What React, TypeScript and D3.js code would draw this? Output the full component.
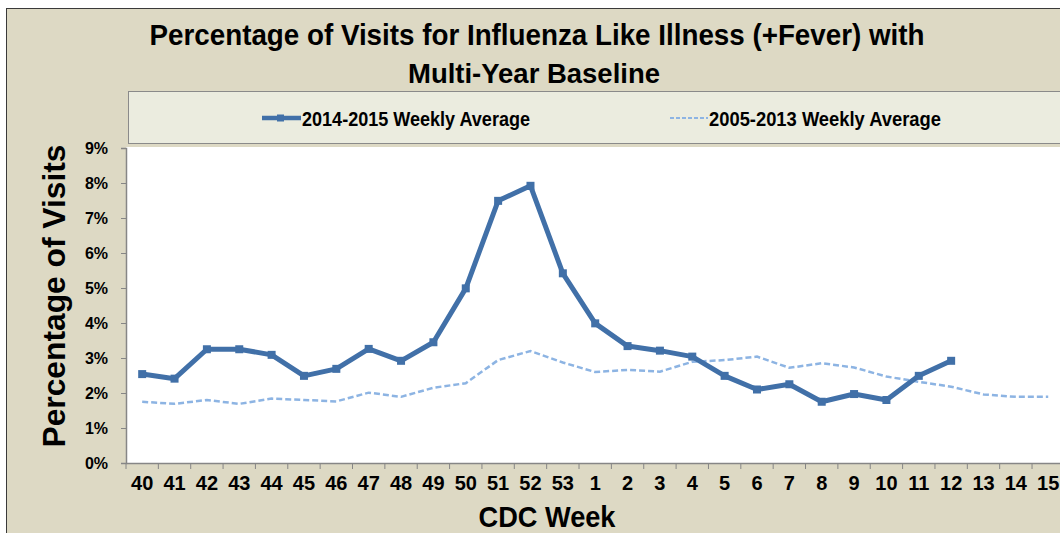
import React, { useEffect, useRef } from 'react';
import * as d3 from 'd3';

// CDC weeks, season runs from week 40 through week 15 of next year
const weeks = ['40', '41', '42', '43', '44', '45', '46', '47', '48', '49', '50', '51', '52', '53',
  '1', '2', '3', '4', '5', '6', '7', '8', '9', '10', '11', '12', '13', '14', '15'];

// 2014-2015 weekly average (%), data through week 12
const season2014 = [2.54, 2.41, 3.25, 3.25, 3.09, 2.49, 2.69, 3.26, 2.92, 3.45, 4.99, 7.49, 7.92, 5.42,
  3.99, 3.34, 3.21, 3.04, 2.49, 2.1, 2.25, 1.75, 1.97, 1.8, 2.49, 2.92];

// 2005-2013 weekly average (%)
const baseline = [1.75, 1.69, 1.8, 1.69, 1.84, 1.8, 1.76, 2.01, 1.89, 2.15, 2.28, 2.94, 3.2, 2.87,
  2.6, 2.66, 2.61, 2.89, 2.94, 3.04, 2.72, 2.85, 2.73, 2.47, 2.32, 2.18, 1.96, 1.89, 1.89];

const yTicks = [0, 1, 2, 3, 4, 5, 6, 7, 8, 9];

const NARROW = "'Liberation Sans Narrow', 'Arial Narrow', 'Liberation Sans', Arial, sans-serif";
const WIDE = "'Liberation Sans', Arial, sans-serif";
const SOLID = '#4170a8';
const DASHED = '#8db4e3';

const label = (svg, x, y, txt, size, family, anchor, len?) => {
  const t = svg
    .append('text')
    .attr('x', x)
    .attr('y', y)
    .attr('font-family', family)
    .attr('font-weight', 'bold')
    .attr('font-size', size)
    .attr('text-anchor', anchor)
    .attr('fill', '#000')
    .text(txt);
  if (len) t.attr('textLength', len).attr('lengthAdjust', 'spacingAndGlyphs');
  return t;
};

const App = () => {
  const ref = useRef<SVGSVGElement>(null);

  useEffect(() => {
    const svg = d3.select(ref.current);
    svg.selectAll('*').remove();

    const x = d3.scaleBand().domain(weeks).range([126, 1064.4]);
    const y = d3.scaleLinear().domain([0, 9]).range([463, 148]);
    const cx = (i) => x(weeks[i]) + x.bandwidth() / 2;

    // chart frame
    svg.append('rect').attr('width', 1060).attr('height', 533).attr('fill', '#fff');
    svg
      .append('rect')
      .attr('x', 6.5)
      .attr('y', 8.5)
      .attr('width', 1070)
      .attr('height', 540)
      .attr('fill', '#ddd9c4')
      .attr('stroke', '#3a3a3a');

    // title
    label(svg, 537, 45, 'Percentage of Visits for Influenza Like Illness (+Fever) with', 29, NARROW, 'middle', 775);
    label(svg, 534, 83, 'Multi-Year Baseline', 28, NARROW, 'middle', 252);

    // legend
    svg
      .append('rect')
      .attr('x', 128.5)
      .attr('y', 91.5)
      .attr('width', 960)
      .attr('height', 52)
      .attr('fill', '#ebecdf')
      .attr('stroke', '#8a8a8a');
    svg.append('line').attr('x1', 262).attr('x2', 301).attr('y1', 118).attr('y2', 118)
      .attr('stroke', SOLID).attr('stroke-width', 4.5);
    svg.append('rect').attr('x', 277).attr('y', 114.5).attr('width', 7).attr('height', 7).attr('fill', SOLID);
    label(svg, 302, 125.5, '2014-2015 Weekly Average', 20, NARROW, 'start', 228);
    svg.append('line').attr('x1', 670).attr('x2', 708).attr('y1', 118).attr('y2', 118)
      .attr('stroke', DASHED).attr('stroke-width', 2).attr('stroke-dasharray', '4,2');
    label(svg, 709, 125.5, '2005-2013 Weekly Average', 20, NARROW, 'start', 232);

    // plot area
    svg.append('rect').attr('x', 126).attr('y', 147).attr('width', 940).attr('height', 316).attr('fill', '#fff');

    // y axis
    const yAxis = svg
      .append('g')
      .attr('transform', 'translate(126,0)')
      .call(d3.axisLeft(y).tickValues(yTicks).tickFormat((d) => d + '%').tickSize(5).tickPadding(13));
    yAxis.select('.domain').attr('stroke', '#868686').attr('stroke-width', 1.5);
    yAxis.selectAll('line').attr('stroke', '#868686');
    yAxis.selectAll('text').attr('font-family', NARROW).attr('font-weight', 'bold').attr('font-size', 16).attr('fill', '#000');

    // x axis
    const xAxis = svg
      .append('g')
      .attr('transform', 'translate(0,463)')
      .call(d3.axisBottom(x).tickSize(0).tickPadding(13).tickSizeOuter(0));
    xAxis.select('.domain').attr('stroke', '#868686').attr('stroke-width', 1.5);
    xAxis.selectAll('text').attr('font-family', NARROW).attr('font-weight', 'bold').attr('font-size', 20).attr('fill', '#000');
    xAxis
      .selectAll('.bound')
      .data(weeks)
      .enter()
      .append('line')
      .attr('x1', (d) => x(d))
      .attr('x2', (d) => x(d))
      .attr('y1', 0)
      .attr('y2', 6)
      .attr('stroke', '#868686');

    // axis titles
    label(svg, 0, 0, 'Percentage of Visits', 31, WIDE, 'middle', 303).attr('transform', 'translate(65,296) rotate(-90)');
    label(svg, 547, 527, 'CDC Week', 30, WIDE, 'middle', 137);

    // baseline series
    const line = d3
      .line<number>()
      .x((d, i) => cx(i))
      .y((d) => y(d));
    svg
      .append('path')
      .attr('d', line(baseline))
      .attr('fill', 'none')
      .attr('stroke', DASHED)
      .attr('stroke-width', 2.5)
      .attr('stroke-dasharray', '6,3');

    // current season
    svg
      .append('path')
      .attr('d', line(season2014))
      .attr('fill', 'none')
      .attr('stroke', SOLID)
      .attr('stroke-width', 5)
      .attr('stroke-linejoin', 'round');
    svg
      .selectAll('.pt')
      .data(season2014)
      .enter()
      .append('rect')
      .attr('x', (d, i) => cx(i) - 4)
      .attr('y', (d) => y(d) - 4)
      .attr('width', 8)
      .attr('height', 8)
      .attr('fill', SOLID);
  }, []);

  return <svg ref={ref} width={1060} height={533} style={{ position: 'absolute', left: 0, top: 0 }} />;
};

export default App;
